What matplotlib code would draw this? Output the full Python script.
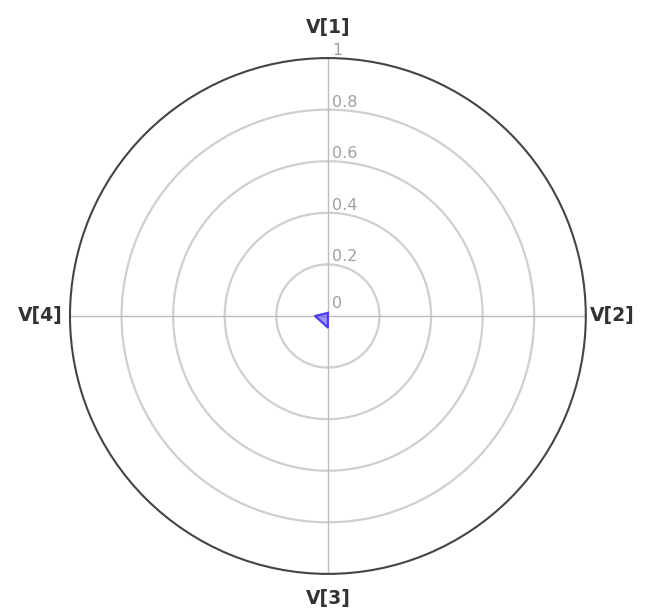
import numpy as np
import matplotlib
matplotlib.use("Agg")
import matplotlib.pyplot as plt
from matplotlib.transforms import offset_copy

categories = ["V[1]", "V[2]", "V[3]", "V[4]"]
values = [0.012, 0.0, 0.045, 0.05]
rticks = [0, 0.2, 0.4, 0.6, 0.8, 1]
rtick_labels = ["0", "0.2", "0.4", "0.6", "0.8", "1"]

fig = plt.figure(figsize=(6.48, 6.15), dpi=100)
ax = fig.add_axes([0.108, 0.0667, 0.796, 0.839], projection="polar")
ax.set_theta_offset(np.pi / 2)
ax.set_theta_direction(-1)

n = len(categories)
angles = np.arange(n) * 2 * np.pi / n
ax.set_ylim(0, 1)
ax.set_yticks([0.2, 0.4, 0.6, 0.8, 1.0])
ax.set_yticklabels([])
ax.set_xticks(angles)
ax.set_xticklabels([])
ax.grid(False)

# rings
th = np.linspace(0, 2 * np.pi, 400)
for r in rticks[1:-1]:
    ax.plot(th, np.full_like(th, r), color="#cfcfcf", lw=1.6, zorder=1)
# spokes
for a in angles:
    ax.plot([a, a], [0, 1], color="#bdbdbd", lw=1.0, zorder=1)
ax.spines["polar"].set_color("#444444")
ax.spines["polar"].set_linewidth(1.5)

# radial labels
trans = offset_copy(ax.transData, fig=fig, x=3, y=0, units="points")
for r, lab in zip(rticks, rtick_labels):
    ax.text(0, r if r > 0 else 0.02, lab, transform=trans, ha="left",
            va="bottom", color="#a0a0a0", fontsize=11.5)

# category labels
label_pos = [(1.08, "center", "bottom"), (1.015, "left", "center"),
             (1.06, "center", "top"), (1.03, "right", "center")]
for a, lab, (r, ha, va) in zip(angles, categories, label_pos):
    ax.text(a, r, lab, ha=ha, va=va, fontsize=13.5, color="#333333",
            fontweight="bold")

# data
vals = values + values[:1]
angs = list(angles) + [angles[0]]
ax.fill(angs, vals, color="#4b3cf0", alpha=0.55, zorder=3)
ax.plot(angs, vals, color="#4b3cf0", lw=1.5, zorder=3)

fig.savefig("out.png", dpi=100)
